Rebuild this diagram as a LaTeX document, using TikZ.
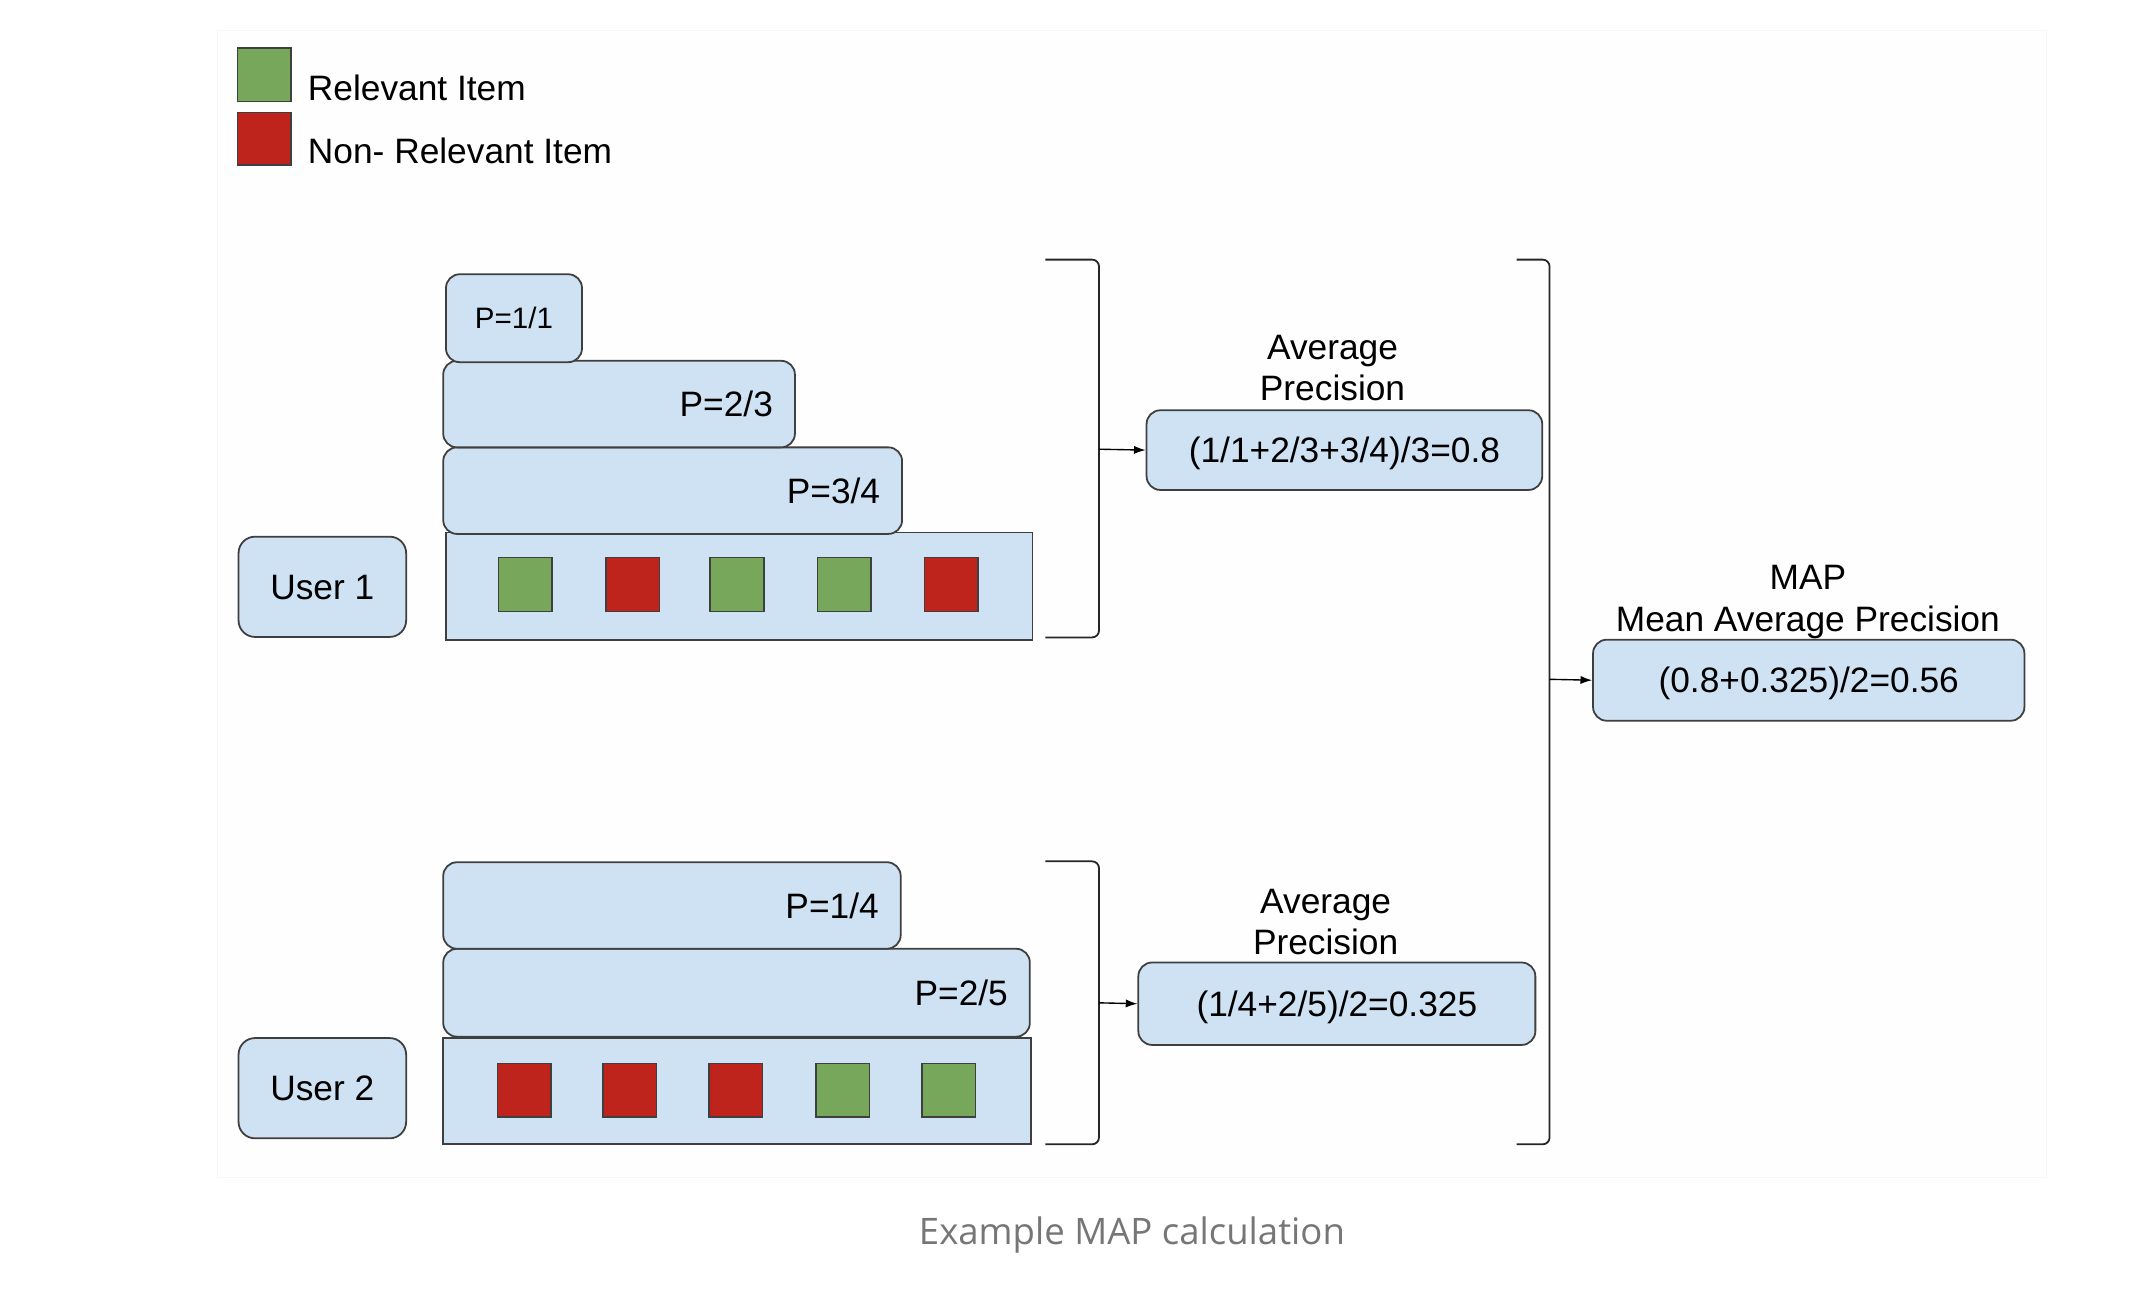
\documentclass[tikz,border=0pt]{standalone}
\usepackage{fontspec}
\setmainfont{Liberation Sans}
\newfontfamily\capfont{Open Sans}
\usetikzlibrary{arrows.meta}
\definecolor{boxblue}{HTML}{CFE2F3}
\definecolor{relgreen}{HTML}{76A75A}
\definecolor{nrred}{HTML}{BE241B}
\definecolor{edgegray}{HTML}{3F3F3F}
\definecolor{capgray}{HTML}{767676}
\definecolor{bggray}{HTML}{FEFEFE}
\definecolor{bgedge}{HTML}{F7F7F7}
\begin{document}
\begin{tikzpicture}[x=1pt,y=-1pt,
  every node/.style={font=\fontsize{25.7pt}{30pt}\selectfont},
  bluebox/.style={draw=edgegray, line width=1.3pt, fill=boxblue, inner sep=0pt,
    text height=18.4pt, text depth=0pt, anchor=north west},
  roundbox/.style={bluebox, rounded corners=10pt},
  pbox/.style={roundbox, align=right, inner xsep=16pt},
  item/.style={draw=edgegray, line width=1.1pt, minimum size=39pt, inner sep=0pt},
  relitem/.style={item, fill=relgreen},
  nritem/.style={item, fill=nrred},
  bracketline/.style={draw=black!85, line width=1.3pt, rounded corners=5pt},
  link/.style={draw=black, line width=1pt, -{Latex[length=8.5pt,width=6pt]}},
  heading/.style={align=center, inner sep=0pt, text depth=0pt},
  legendtext/.style={anchor=base west, inner sep=0pt}
]
\useasboundingbox (0,0) rectangle (1568,942);
\filldraw[fill=bggray, draw=bgedge, line width=0.8pt] (158,22) rectangle (1490,857);

% legend
\node[relitem] (legrel) at (192.5,54.5) {};
\node[nritem, minimum height=38pt] (legnr) at (192.5,101) {};
\node[legendtext] (legrelt) at (224,73) {Relevant Item};
\node[legendtext] (legnrt) at (224,119) {Non- Relevant Item};

% user 1
\node[bluebox, minimum width=427pt, minimum height=78pt] (items1) at (324,387) {};
\node[pbox, minimum width=334pt, minimum height=63pt, text width=302pt] (p34) at (322,325) {P=3/4};
\node[pbox, minimum width=256pt, minimum height=63pt, text width=224pt] (p23) at (322,262) {P=2/3};
\node[roundbox, minimum width=99pt, minimum height=64pt,
  font=\fontsize{21.5pt}{26pt}\selectfont, text height=15.4pt] (p11) at (324,199) {P=1/1};
\node[roundbox, rounded corners=12pt, minimum width=122pt, minimum height=73pt] (user1) at (173,390) {User 1};
\node[relitem] (u1a) at (382.5,425.5) {};
\node[nritem]  (u1b) at (460.5,425.5) {};
\node[relitem] (u1c) at (536.5,425.5) {};
\node[relitem] (u1d) at (614.5,425.5) {};
\node[nritem]  (u1e) at (692.5,425.5) {};

% user 2
\node[bluebox, minimum width=428pt, minimum height=77pt] (items2) at (322,755) {};
\node[pbox, minimum width=427pt, minimum height=64pt, text width=395pt] (p25) at (322,690) {P=2/5};
\node[pbox, minimum width=333pt, minimum height=63pt, text width=301pt] (p14) at (322,627) {P=1/4};
\node[roundbox, rounded corners=12pt, minimum width=122pt, minimum height=73pt] (user2) at (173,755) {User 2};
\node[nritem]  (u2a) at (381.5,793.5) {};
\node[nritem]  (u2b) at (458.5,793.5) {};
\node[nritem]  (u2c) at (535.5,793.5) {};
\node[relitem] (u2d) at (613.5,793.5) {};
\node[relitem] (u2e) at (690.5,793.5) {};

% average precision boxes
\node[roundbox, minimum width=288pt, minimum height=58pt] (ap1) at (834,298) {(1/1+2/3+3/4)/3=0.8};
\node[heading] (ap1lab) at (970,268) {Average\\Precision};
\node[roundbox, minimum width=289pt, minimum height=60pt] (ap2) at (828,700) {(1/4+2/5)/2=0.325};
\node[heading] (ap2lab) at (965,671) {Average\\Precision};

% MAP
\node[roundbox, minimum width=314pt, minimum height=59pt] (map) at (1159,465) {(0.8+0.325)/2=0.56};
\node[heading] (maplab) at (1316,435.5) {MAP\\[1pt]Mean Average Precision};

% brackets
\coordinate (b1tl) at (761,189); \coordinate (b1tr) at (800,189);
\coordinate (b1br) at (800,464); \coordinate (b1bl) at (761,464);
\coordinate (b1mid) at (800,327);
\draw[bracketline] (b1tl) -- (b1tr) -- (b1br) -- (b1bl);
\draw[link] (b1mid) -- (ap1.west);

\coordinate (b2tl) at (761,627); \coordinate (b2tr) at (800,627);
\coordinate (b2br) at (800,833); \coordinate (b2bl) at (761,833);
\coordinate (b2mid) at (800,730);
\draw[bracketline] (b2tl) -- (b2tr) -- (b2br) -- (b2bl);
\draw[link] (b2mid) -- (ap2.west);

\coordinate (b3tl) at (1104,189); \coordinate (b3tr) at (1128,189);
\coordinate (b3br) at (1128,833); \coordinate (b3bl) at (1104,833);
\coordinate (b3mid) at (1128,494.5);
\draw[bracketline] (b3tl) -- (b3tr) -- (b3br) -- (b3bl);
\draw[link] (b3mid) -- (map.west);

% caption
\node[font=\capfont\fontsize{26.6pt}{32pt}\selectfont, text=capgray, anchor=base, inner sep=0pt] (caption) at (824,906) {Example MAP calculation};
\end{tikzpicture}
\end{document}
